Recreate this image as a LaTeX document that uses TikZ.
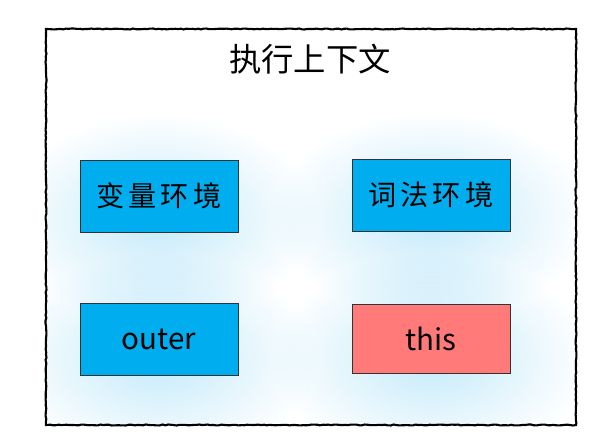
\documentclass[tikz,border=0pt]{standalone}
\usepackage{fontspec}
\newfontfamily\cjk{Noto Sans CJK SC}
\newfontfamily\cjkwide[LetterSpace=14]{Noto Sans CJK SC}
\usetikzlibrary{decorations.pathmorphing}
\definecolor{envblue}{HTML}{00AEEF}
\definecolor{envred}{HTML}{FF7A78}
\definecolor{glowblue}{HTML}{C4EAFA}
\tikzset{envbox/.style = {draw = black!80, line width = 0.6pt, minimum width = 3.95cm, minimum height = 1.8cm, inner sep = 0}}
\tikzset{cnbox/.style = {envbox, fill = envblue, font = \cjkwide\fontsize{20}{24}\selectfont}}
\tikzset{enbox/.style = {envbox, font = \cjk\fontsize{21}{25}\selectfont}}
\tikzset{glow/.style = {inner color = glowblue, outer color = white, blend mode = multiply}}

\begin{document}
\begin{tikzpicture}[x = 0.025cm, y = 0.025cm]
    \useasboundingbox (0, 0) rectangle (608, 443);
    % soft light behind the boxes
    \begin{scope}
        \clip (46, 18) rectangle (576, 414);
        \shade [glow] (159, 225) ellipse [x radius = 160, y radius = 105];
        \shade [glow] (431, 227) ellipse [x radius = 160, y radius = 105];
        \shade [glow] (159, 85) ellipse [x radius = 160, y radius = 105];
        \shade [glow] (431, 85) ellipse [x radius = 160, y radius = 105];
    \end{scope}
    \draw [line width = 1.5pt, decorate, decoration = {random steps, segment length = 2pt, amplitude = 0.35pt}]
        (46, 18) rectangle (576, 414);
    \node (title) at (310, 384) {\cjk\fontsize{23}{27}\selectfont 执行上下文};
    \node [cnbox] (varenv) at (159, 247) {变量环境};
    \node [cnbox] (lexenv) at (431, 248) {词法环境};
    \node [enbox, fill = envblue] (outer) at (159, 104) {outer};
    \node [enbox, fill = envred, minimum height = 1.72cm] (this) at (431, 104) {this};
\end{tikzpicture}
\end{document}
